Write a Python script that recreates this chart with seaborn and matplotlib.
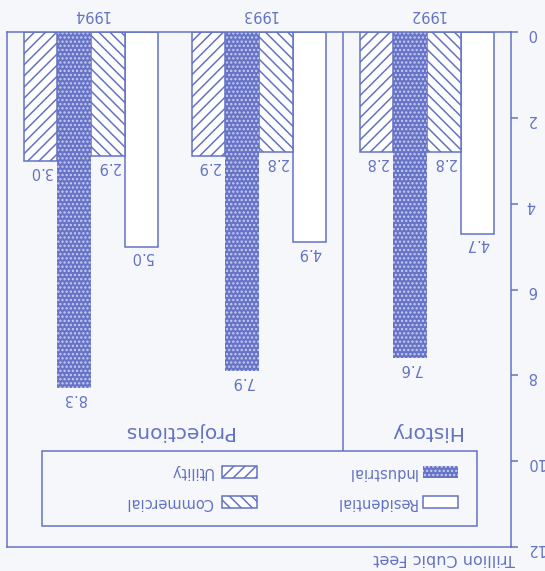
import numpy as np
import pandas as pd
import seaborn as sns
import matplotlib.pyplot as plt
from matplotlib.patches import Rectangle

# Natural gas consumption by sector, trillion cubic feet
years = ["1992", "1993", "1994"]
sectors = ["Residential", "Commercial", "Industrial", "Utility"]
residential = [4.7, 4.9, 5.0]
commercial = [2.8, 2.8, 2.9]
industrial = [7.6, 7.9, 8.3]
utility = [2.8, 2.9, 3.0]
value_ticks = [0, 2, 4, 6, 8, 10, 12]
unit_label = "Trillion Cubic Feet"
period_labels = ["History", "Projections"]

INK = "#6472c4"
DARK = "#6673c6"
DOTS = "#c8cef0"
PAPER = "#f6f7fb"

df = pd.DataFrame({
    "Year": np.repeat(years, len(sectors)),
    "Sector": sectors * len(years),
    "Value": np.ravel(np.column_stack([residential, commercial, industrial, utility])),
})

sns.set_theme(style="white")
plt.rcParams["font.family"] = ["DejaVu Sans"]
plt.rcParams["hatch.linewidth"] = 1.1

W, H = 545, 571
fig = plt.figure(figsize=(W / 100, H / 100), dpi=100, facecolor=PAPER)


def fx(px):
    return px / W


def fy(py):
    return 1 - py / H


# axes frame: left 7, right 511, top 32, bottom 547 (pixels)
ax = fig.add_axes([fx(7), fy(547), fx(511) - fx(7), (547 - 32) / H])
ax.set_facecolor(PAPER)

sns.barplot(data=df, x="Year", y="Value", hue="Sector", order=years,
            hue_order=sectors, width=0.8, ax=ax, legend=False)

styles = {
    "Residential": dict(facecolor="white", edgecolor=INK, linewidth=1.1, hatch=None),
    "Commercial": dict(facecolor="white", edgecolor=INK, linewidth=1.1, hatch="\\\\\\"),
    "Industrial": dict(facecolor=DARK, edgecolor=DOTS, linewidth=0, hatch="...."),
    "Utility": dict(facecolor="white", edgecolor=INK, linewidth=1.1, hatch="///"),
}

# page is printed upside down: flip both axes
ax.set_xlim(2.5, -0.5)
ax.set_ylim(12, 0)

for sector, cont in zip(sectors, ax.containers):
    st = styles[sector]
    for bar in cont:
        bar.set_facecolor(st["facecolor"])
        bar.set_edgecolor(st["edgecolor"])
        bar.set_linewidth(st["linewidth"])
        bar.set_hatch(st["hatch"])
        v = bar.get_height()
        ax.annotate(f"{v:.1f}", xy=(bar.get_x() + bar.get_width() / 2, v),
                    xytext=(0, -2), textcoords="offset points",
                    rotation=180, ha="center", va="top",
                    color=INK, fontsize=10.5)

ax.set_xlabel("")
ax.set_ylabel("")

ax.xaxis.tick_top()
ax.set_xticks(range(len(years)))
ax.set_xticklabels(years, fontsize=10.5, color=INK, rotation=180)
ax.tick_params(axis="x", length=0, pad=7)
ax.yaxis.tick_right()
ax.set_yticks(value_ticks)
ax.set_yticklabels([str(v) for v in value_ticks], fontsize=10.5, color=INK,
                   rotation=180)
ax.tick_params(axis="y", length=5, width=1.1, color=INK, pad=6)
for sp in ax.spines.values():
    sp.set_visible(True)
    sp.set_color(INK)
    sp.set_linewidth(1.1)

# divider between history and projections
leg_top, leg_bottom, leg_left, leg_right = 451, 526, 42, 477
div_val = (leg_top - 32) / ((547 - 32) / 12)
ax.vlines(0.5, 0, div_val, color=INK, linewidth=1.1)

# period captions
fig.text(fx(425), fy(431), period_labels[0], rotation=180, ha="center",
         va="center", fontsize=14.5, color=INK)
fig.text(fx(178), fy(431), period_labels[1], rotation=180, ha="center",
         va="center", fontsize=14.5, color=INK)

# unit label
fig.text(fx(515), fy(559), unit_label, rotation=180, ha="right", va="center",
         fontsize=11.5, color=INK)

# legend box
fig.patches.append(Rectangle((fx(leg_left), fy(leg_bottom)),
                             fx(leg_right) - fx(leg_left),
                             (leg_bottom - leg_top) / H,
                             transform=fig.transFigure, facecolor="none",
                             edgecolor=INK, linewidth=1.1))
legend_slots = {
    "Utility": (222, 472, 213),
    "Commercial": (222, 502, 213),
    "Industrial": (423, 472, 417),
    "Residential": (423, 502, 417),
}
pw, ph = 35, 12
for sector in sectors:
    x0, yc, tx = legend_slots[sector]
    st = styles[sector]
    fig.patches.append(Rectangle((fx(x0), fy(yc + ph / 2)), pw / W, ph / H,
                                 transform=fig.transFigure,
                                 facecolor=st["facecolor"],
                                 edgecolor=st["edgecolor"],
                                 linewidth=st["linewidth"], hatch=st["hatch"]))
    fig.text(fx(tx), fy(yc), sector, rotation=180, ha="right", va="center",
             fontsize=10.5, color=INK)

fig.savefig("out.png", dpi=100, facecolor=PAPER)
